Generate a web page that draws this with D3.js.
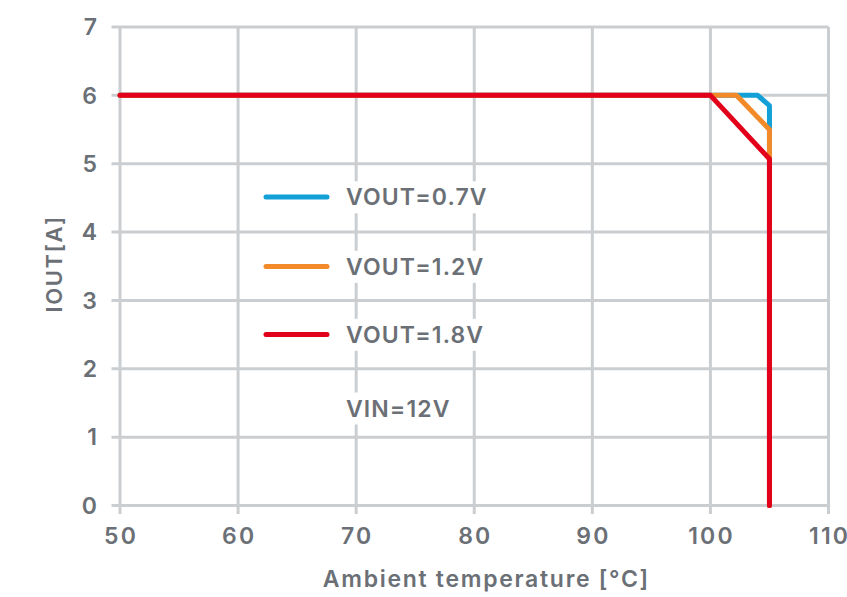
<!DOCTYPE html>
<html>
<head>
<meta charset="utf-8">
<script src="https://cdn.jsdelivr.net/npm/d3@7/dist/d3.min.js"></script>
<style>
  html, body { margin: 0; padding: 0; background: #ffffff; }
  svg { display: block; }
  text { font-family: Inter, "Open Sans", sans-serif; fill: #6b7076; font-weight: 600; }
</style>
</head>
<body>
<svg id="chart" width="847" height="597"></svg>
<script>
// Axis ticks
const xTicks = [50, 60, 70, 80, 90, 100, 110];
const yTicks = [0, 1, 2, 3, 4, 5, 6, 7];

// Derating curves: ambient temperature [°C] vs output current [A]
const tempBlue   = [50, 100, 104, 105, 105];
const ioutBlue   = [6, 6, 6, 5.85, 0];
const tempOrange = [50, 100, 102.2, 105, 105];
const ioutOrange = [6, 6, 6, 5.5, 0];
const tempRed    = [50, 100, 105, 105];
const ioutRed    = [6, 6, 5.07, 0];

const seriesNames  = ["VOUT=0.7V", "VOUT=1.2V", "VOUT=1.8V"];
const seriesColors = ["#12a0d7", "#f28a2a", "#e2001a"];
const noteText = "VIN=12V";

const series = [
  { name: seriesNames[0], color: seriesColors[0], pts: tempBlue.map((t, i) => [t, ioutBlue[i]]) },
  { name: seriesNames[1], color: seriesColors[1], pts: tempOrange.map((t, i) => [t, ioutOrange[i]]) },
  { name: seriesNames[2], color: seriesColors[2], pts: tempRed.map((t, i) => [t, ioutRed[i]]) }
];

const svg = d3.select("#chart");
const x = d3.scaleLinear().domain([50, 110]).range([120, 828.5]);
const y = d3.scaleLinear().domain([0, 7]).range([505.5, 27]);

const gridColor = "#cbced1";
const tickLen = 8.5;

// Grid lines (extend past the plot edges as tick marks)
const grid = svg.append("g");
grid.selectAll("line.v").data(xTicks).join("line")
  .attr("x1", d => x(d)).attr("x2", d => x(d))
  .attr("y1", y(7)).attr("y2", y(0) + tickLen)
  .attr("stroke", gridColor).attr("stroke-width", 3);
grid.selectAll("line.h").data(yTicks).join("line")
  .attr("x1", x(50) - tickLen).attr("x2", x(110))
  .attr("y1", d => y(d)).attr("y2", d => y(d))
  .attr("stroke", gridColor).attr("stroke-width", 3);

// Tick labels
const xSpacing = 2.2;
svg.append("g").selectAll("text").data(xTicks).join("text")
  .attr("x", d => x(d) + xSpacing / 2).attr("y", 543.5)
  .attr("text-anchor", "middle")
  .style("font-size", "23px")
  .style("letter-spacing", xSpacing + "px")
  .text(d => d);
svg.append("g").selectAll("text").data(yTicks).join("text")
  .attr("x", 97).attr("y", d => y(d) + 8.3)
  .attr("text-anchor", "end")
  .style("font-size", "23px")
  .text(d => d);

// Axis titles
const titleSpacing = 1.7;
svg.append("text")
  .attr("x", 485.5 + titleSpacing / 2).attr("y", 587)
  .attr("text-anchor", "middle")
  .style("font-size", "23px")
  .style("letter-spacing", titleSpacing + "px")
  .text("Ambient temperature [°C]");
svg.append("text")
  .attr("transform", "translate(62," + (263 + 0.8) + ") rotate(-90)")
  .attr("text-anchor", "middle")
  .style("font-size", "22px")
  .style("letter-spacing", "1.6px")
  .text("IOUT[A]");

// Curves
const line = d3.line().x(d => x(d[0])).y(d => y(d[1]));
svg.append("g").selectAll("path").data(series).join("path")
  .attr("d", d => line(d.pts))
  .attr("fill", "none")
  .attr("stroke", d => d.color)
  .attr("stroke-width", 5)
  .attr("stroke-linecap", "round")
  .attr("stroke-linejoin", "round");

// Legend with white backing behind the labels
function label(g, tx, ty, str) {
  const t = g.append("text")
    .attr("x", tx).attr("y", ty)
    .style("font-size", "23px")
    .style("letter-spacing", "1.1px")
    .text(str);
  const b = t.node().getBBox();
  g.insert("rect", "text")
    .attr("x", b.x - 4).attr("y", b.y - 2)
    .attr("width", b.width + 6).attr("height", b.height + 4)
    .attr("fill", "#ffffff");
}

const legendY = [197, 266.5, 334.5];
const legend = svg.append("g");
series.forEach((s, i) => {
  const g = legend.append("g");
  g.append("line")
    .attr("x1", 266).attr("x2", 327)
    .attr("y1", legendY[i]).attr("y2", legendY[i])
    .attr("stroke", s.color).attr("stroke-width", 5)
    .attr("stroke-linecap", "round");
  label(g, 346, legendY[i] + 8.3, s.name);
});
label(legend.append("g"), 346, 416.5, noteText);
</script>
</body>
</html>
